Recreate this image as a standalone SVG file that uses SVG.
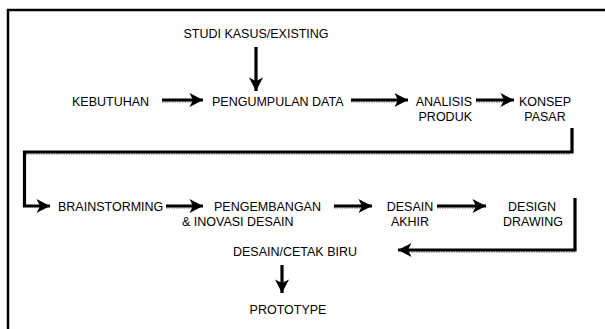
<svg xmlns="http://www.w3.org/2000/svg" width="605" height="329" viewBox="0 0 605 329">
<style>
text{font-family:"Liberation Sans",Arial,sans-serif;font-size:12.5px;fill:#000}
.ln{fill:none;stroke:#000;stroke-width:3.2}
.sh{fill:none;stroke:#9a9a9a;stroke-width:1.5;stroke-dasharray:1.5,1}
.frame{fill:none;stroke:#000;stroke-width:2.5}
</style>
<defs>
<marker id="ah" markerUnits="userSpaceOnUse" markerWidth="16" markerHeight="16" refX="13.5" refY="7.5" orient="auto" overflow="visible">
<path d="M0,0.5 L13.5,7.5 L0,14.5 L3.5,7.5 z" fill="#000"/>
</marker>
</defs>
<rect width="605" height="329" fill="#fff"/>
<path class="frame" d="M8,329 V10 H605"/>
<g id="connectors">
<path class="sh" d="M162,102 H192"/>
<path class="ln" d="M162,100 H203" marker-end="url(#ah)"/>
<path class="sh" d="M351,102 H398"/>
<path class="ln" d="M351,100 H408" marker-end="url(#ah)"/>
<path class="sh" d="M476,102 H504"/>
<path class="ln" d="M476,100 H514" marker-end="url(#ah)"/>
<path class="ln" d="M256,47 V91" marker-end="url(#ah)"/>
<path class="sh" d="M26,154 H571"/>
<path class="ln" d="M572,128 V152 H24.5 V206 H50" marker-end="url(#ah)"/>
<path class="sh" d="M166,208 H194"/>
<path class="ln" d="M166,206 H203" marker-end="url(#ah)"/>
<path class="sh" d="M334,208 H362"/>
<path class="ln" d="M334,206 H372" marker-end="url(#ah)"/>
<path class="sh" d="M437,208 H476"/>
<path class="ln" d="M437,206 H486" marker-end="url(#ah)"/>
<path class="sh" d="M406,252 H575"/>
<path class="ln" d="M575,198 V250 H398" marker-end="url(#ah)"/>
<path class="ln" d="M282,265 V293" marker-end="url(#ah)"/>
</g>
<g id="studi"><text x="256" y="37.5" text-anchor="middle">STUDI KASUS/EXISTING</text></g>
<g id="kebutuhan"><text x="72" y="105.5">KEBUTUHAN</text></g>
<g id="pengumpulan"><text x="212" y="105.5">PENGUMPULAN DATA</text></g>
<g id="analisis"><text x="472" y="105.5" text-anchor="end">ANALISIS</text><text x="472" y="120.5" text-anchor="end">PRODUK</text></g>
<g id="konsep"><text x="545" y="105.5" text-anchor="middle">KONSEP</text><text x="545" y="120.5" text-anchor="middle">PASAR</text></g>
<g id="brainstorming"><text x="58" y="210.5">BRAINSTORMING</text></g>
<g id="pengembangan"><text x="214" y="210.5">PENGEMBANGAN</text><text x="182" y="225.5">&amp; INOVASI DESAIN</text></g>
<g id="desainakhir"><text x="410" y="210.5" text-anchor="middle">DESAIN</text><text x="410" y="225.5" text-anchor="middle">AKHIR</text></g>
<g id="designdrawing"><text x="532" y="210.5" text-anchor="middle">DESIGN</text><text x="533" y="225.5" text-anchor="middle">DRAWING</text></g>
<g id="cetakbiru"><text x="295" y="255.5" text-anchor="middle">DESAIN/CETAK BIRU</text></g>
<g id="prototype"><text x="288" y="313.5" text-anchor="middle">PROTOTYPE</text></g>
</svg>
